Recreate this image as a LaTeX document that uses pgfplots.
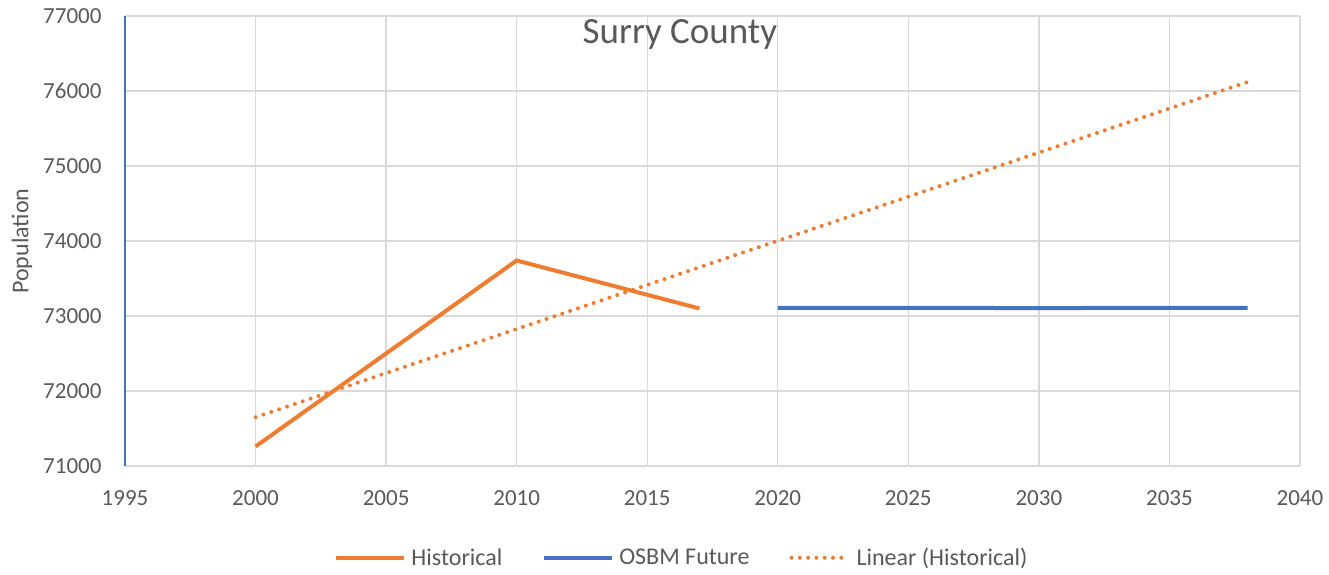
\documentclass[border=0pt]{standalone}
\usepackage{fontspec}
\setmainfont{Carlito}
\usepackage{pgfplots}
\pgfplotsset{compat=1.18}
\definecolor{histc}{HTML}{ED7D31}
\definecolor{osbmc}{HTML}{4472C4}
\definecolor{gridc}{HTML}{D9D9D9}
\definecolor{txtc}{HTML}{595959}
\newcommand{\tickfont}{\fontsize{23bp}{27bp}\selectfont}
\pgfplotsset{dotleg/.style={legend image code/.code={\draw[##1] (6bp,0bp) -- (64bp,0bp);}}}
\begin{document}
\begin{tikzpicture}
\path[use as bounding box] (-125bp,-109bp) rectangle (1204bp,466bp);
\begin{axis}[at={(0,0)}, anchor=south west, scale only axis,
  width=1175bp, height=450bp,
  xmin=1995, xmax=2040, ymin=71000, ymax=77000,
  xtick={1995,2000,...,2040}, ytick={71000,72000,...,77000},
  scaled ticks=false,
  grid=major, major grid style={gridc, line width=1.3bp},
  axis lines=left,
  x axis line style={-, draw=gridc, line width=1.3bp},
  y axis line style={-, draw=osbmc, line width=1.3bp},
  major tick length=0pt,
  xticklabel style={font=\tickfont, text=txtc, yshift=-21bp},
  yticklabel style={font=\tickfont, text=txtc, xshift=-20bp},
  xticklabel={\pgfmathprintnumber[1000 sep={},assume math mode=true]{\tick}},
  yticklabel={\pgfmathprintnumber[1000 sep={},assume math mode=true,fixed]{\tick}},
  ylabel={Population},
  ylabel style={at={(axis description cs:-0.0877,0.5)}, anchor=center, font=\fontsize{24bp}{28bp}\selectfont, text=txtc},
  legend style={at={(axis description cs:0.474,-0.204)}, anchor=center, draw=none,
    font=\fontsize{24bp}{28bp}\selectfont, text=txtc,
    /tikz/every odd column/.append style={column sep=3bp},
    /tikz/every even column/.append style={column sep=38bp}},
  legend columns=3,
  legend cell align=left,
  legend image code/.code={\draw[#1] (0bp,0bp) -- (68bp,0bp);},
]
\addplot[draw=histc, line width=4bp] coordinates {(2000,71260) (2010,73740) (2017,73100)};
\addlegendentry{Historical}
\addplot[draw=osbmc, line width=4bp] coordinates {(2020,73110) (2025,73108) (2030,73106) (2035,73108) (2038,73110)};
\addlegendentry{OSBM Future}
\addplot[draw=histc, line width=4bp, line cap=round, dash pattern=on 0bp off 8.3bp, dotleg] coordinates {(2000,71650) (2038,76120)};
\addlegendentry{Linear (Historical)}
\node[font=\fontsize{37bp}{40bp}\selectfont, text=txtc] at (axis description cs:0.4723,0.958) {Surry County};
\end{axis}
\end{tikzpicture}
\end{document}
